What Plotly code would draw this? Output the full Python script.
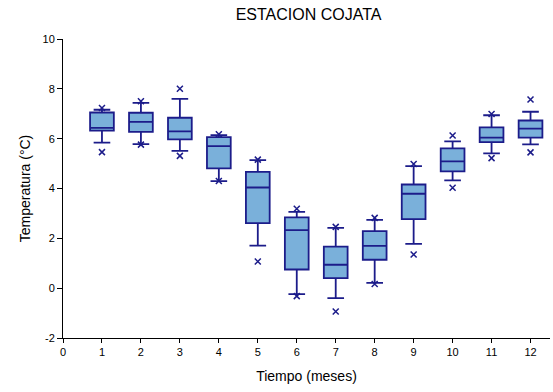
import plotly.graph_objects as go

# Monthly temperature statistics, Cojata station
months = [1, 2, 3, 4, 5, 6, 7, 8, 9, 10, 11, 12]
q1 = [6.32, 6.27, 5.97, 4.81, 2.61, 0.75, 0.40, 1.14, 2.77, 4.69, 5.86, 6.04]
median = [6.43, 6.67, 6.29, 5.70, 4.04, 2.33, 0.94, 1.70, 3.79, 5.09, 6.04, 6.40]
q3 = [7.05, 7.04, 6.84, 6.06, 4.67, 2.84, 1.67, 2.29, 4.16, 5.61, 6.45, 6.73]
whisk_low = [5.84, 5.78, 5.51, 4.30, 1.71, -0.24, -0.40, 0.21, 1.78, 4.33, 5.41, 5.77]
whisk_high = [7.16, 7.44, 7.60, 6.14, 5.14, 3.06, 2.42, 2.74, 4.90, 5.89, 6.94, 7.08]
x_min = [5.46, 5.76, 5.31, 4.30, 1.07, -0.32, -0.94, 0.17, 1.35, 4.03, 5.22, 5.45]
x_max = [7.23, 7.50, 8.00, 6.18, 5.16, 3.19, 2.46, 2.82, 4.98, 6.13, 6.99, 7.57]

y_ticks = [-2, 0, 2, 4, 6, 8, 10]
y_ticktext = ["-2", "0", "2", "4", "6", "8", "10"]

navy = "#1c1c8a"
fill = "#7ab0da"

fig = go.Figure()
fig.add_trace(go.Box(
    x=months, q1=q1, median=median, q3=q3,
    lowerfence=whisk_low, upperfence=whisk_high,
    width=0.61, whiskerwidth=0.7,
    fillcolor=fill, line=dict(color=navy, width=1.8),
    boxpoints=False, showlegend=False,
))
fig.add_trace(go.Scatter(
    x=months + months, y=x_min + x_max, mode="markers",
    marker=dict(symbol="x-thin", size=6, line=dict(color=navy, width=1.5)),
    showlegend=False,
))

font = "Liberation Sans, Arial, sans-serif"
fig.update_layout(
    width=553, height=392,
    margin=dict(l=63, r=3, t=39, b=54),
    paper_bgcolor="white", plot_bgcolor="white",
    font=dict(family=font, size=11, color="black"),
    title=dict(text="ESTACION COJATA", x=0.558, xanchor="center", y=0.963,
               yanchor="middle", font=dict(size=16, color="black")),
    xaxis=dict(range=[0, 12.5], tickmode="linear", tick0=0, dtick=1,
               showgrid=False, zeroline=False, showline=True, linecolor="black",
               linewidth=1, ticks="outside", ticklen=4, tickcolor="black",
               title=dict(text="Tiempo (meses)", font=dict(size=14), standoff=13)),
    yaxis=dict(range=[-2, 10], tickmode="array", tickvals=y_ticks,
               ticktext=y_ticktext,
               showgrid=False, zeroline=False, showline=True, linecolor="black",
               linewidth=1, ticks="outside", ticklen=5, tickcolor="black",
               title=dict(text="Temperatura (°C)", font=dict(size=14), standoff=8)),
)

fig.write_html("out.html")
